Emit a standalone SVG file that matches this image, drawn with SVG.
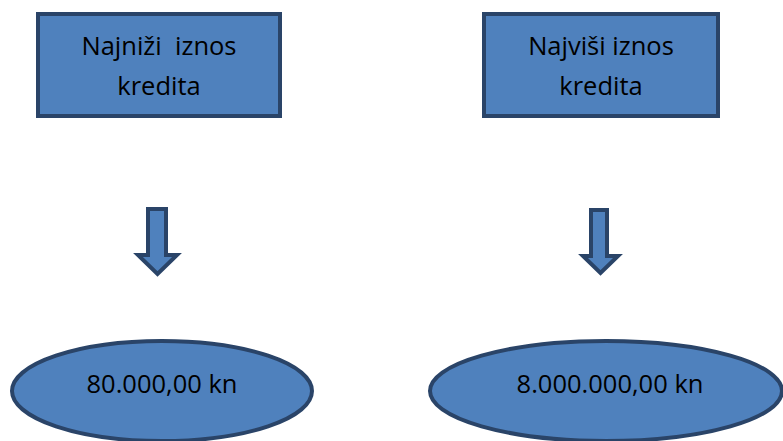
<svg xmlns="http://www.w3.org/2000/svg" width="783" height="441" viewBox="0 0 783 441">
<style>
.shape{fill:#4F81BD;stroke:#2A4468;stroke-width:4}
.arrow{fill:#4F81BD;stroke:#2A4468;stroke-width:4;stroke-linejoin:miter}
text{font-family:"Open Sans","Liberation Sans",sans-serif;font-size:25.5px;fill:#000;text-anchor:middle}
</style>
<rect width="783" height="441" fill="#fff"/>
<g id="node-min">
<rect class="shape" x="38" y="14" width="242" height="102"/>
<text x="159" y="55" xml:space="preserve">Najniži  iznos</text>
<text x="159" y="95">kredita</text>
</g>
<g id="node-max">
<rect class="shape" x="484" y="14" width="234" height="102"/>
<text x="601" y="55">Najviši iznos</text>
<text x="601" y="95">kredita</text>
</g>
<g id="node-min-value">
<ellipse class="shape" cx="162" cy="391" rx="150" ry="50"/>
<text x="162" y="393">80.000,00 kn</text>
</g>
<g id="node-max-value">
<ellipse class="shape" cx="606" cy="391" rx="176" ry="50"/>
<text x="610" y="393">8.000.000,00 kn</text>
</g>
<g id="connectors">
<path class="arrow" d="M148,209 H166 V255 H177 L157.5,274 L138,255 H148 Z"/>
<path class="arrow" d="M591,210 H607 V256 H618 L600.5,273 L583,256 H591 Z"/>
</g>
</svg>
